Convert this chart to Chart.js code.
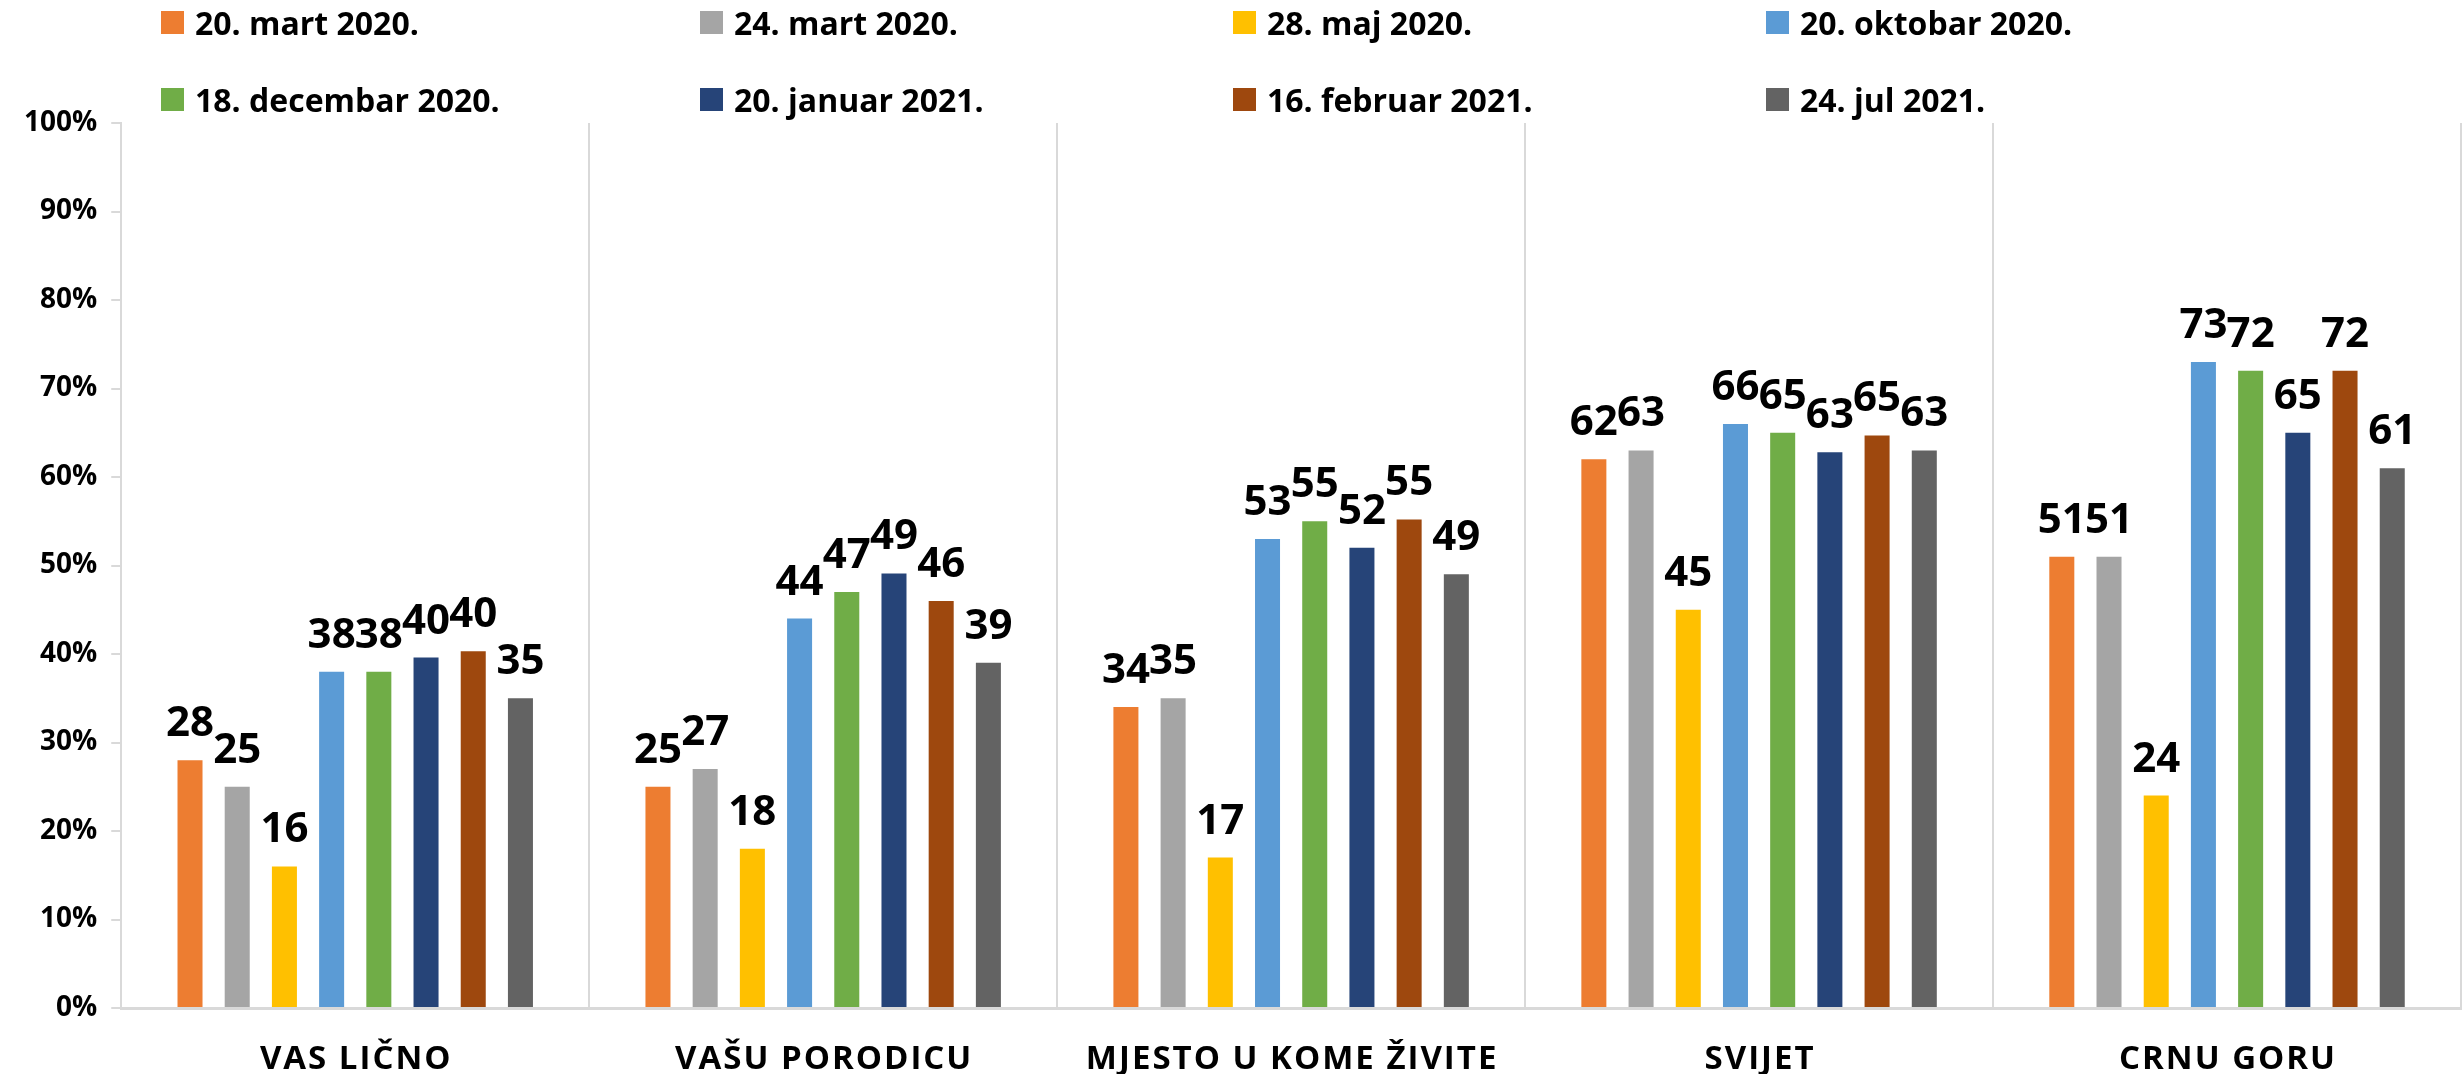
<!DOCTYPE html>
<html>
<head>
<meta charset="utf-8">
<script src="https://cdn.jsdelivr.net/npm/chart.js@4/dist/chart.umd.min.js"></script>
<style>
  html, body { margin: 0; padding: 0; background: #ffffff; }
  #wrap { width: 2463px; height: 1074px; }
</style>
</head>
<body>
<div id="wrap"><canvas id="c" width="2463" height="1074"></canvas></div>
<script>
const categories = ['VAS LIČNO', 'VAŠU PORODICU', 'MJESTO U KOME ŽIVITE', 'SVIJET', 'CRNU GORU'];
const seriesNames = ['20. mart 2020.', '24. mart 2020.', '28. maj 2020.', '20. oktobar 2020.',
                     '18. decembar 2020.', '20. januar 2021.', '16. februar 2021.', '24. jul 2021.'];
const mart20_2020 = [28, 25, 34, 62, 51];
const mart24_2020 = [25, 27, 35, 63, 51];
const maj28_2020 = [16, 18, 17, 45, 24];
const oktobar20_2020 = [38, 44, 53, 66, 73];
const decembar18_2020 = [38, 47, 55, 65, 72];
const januar20_2021 = [39.6, 49.1, 52, 62.8, 65];
const februar16_2021 = [40.3, 46, 55.2, 64.7, 72];
const jul24_2021 = [35, 39, 49, 63, 61];
const yTicks = [0, 10, 20, 30, 40, 50, 60, 70, 80, 90, 100];

const seriesValues = [mart20_2020, mart24_2020, maj28_2020, oktobar20_2020,
                      decembar18_2020, januar20_2021, februar16_2021, jul24_2021];
const seriesColors = ['#ED7D31', '#A5A5A5', '#FFC000', '#5B9BD5', '#70AD47', '#264478', '#9E480E', '#636363'];

const FONT = '"Open Sans", "Noto Sans", sans-serif';

const legendPlugin = {
  id: 'customLegend',
  afterDraw(chart) {
    const ctx = chart.ctx;
    const cols = [161, 700, 1233, 1766];
    const rowsBase = [35, 112];
    ctx.save();
    ctx.font = 'bold 32px ' + FONT;
    ctx.textAlign = 'left';
    ctx.textBaseline = 'alphabetic';
    chart.data.datasets.forEach((ds, i) => {
      const col = i % 4, row = Math.floor(i / 4);
      const x = cols[col], base = rowsBase[row];
      ctx.fillStyle = ds.backgroundColor;
      ctx.fillRect(x, base - 24, 23, 23);
      ctx.fillStyle = '#000000';
      ctx.fillText(ds.label, x + 34, base);
    });
    ctx.restore();
  }
};

const xLabelPlugin = {
  id: 'xLabels',
  afterDraw(chart) {
    const ctx = chart.ctx;
    const xs = chart.scales.x;
    ctx.save();
    ctx.font = 'bold 33px ' + FONT;
    ctx.textAlign = 'center';
    ctx.textBaseline = 'alphabetic';
    ctx.fillStyle = '#000000';
    if ('letterSpacing' in ctx) ctx.letterSpacing = '2px';
    chart.data.labels.forEach((lab, i) => {
      const x = xs.getPixelForValue(i);
      ctx.fillText(lab, x + 1, 1069);
    });
    ctx.restore();
  }
};

const dataLabelPlugin = {
  id: 'dataLabels',
  afterDatasetsDraw(chart) {
    const ctx = chart.ctx;
    ctx.save();
    ctx.font = 'bold 42px ' + FONT;
    ctx.textAlign = 'center';
    ctx.textBaseline = 'alphabetic';
    ctx.fillStyle = '#000000';
    chart.data.datasets.forEach((ds, di) => {
      const meta = chart.getDatasetMeta(di);
      meta.data.forEach((bar, i) => {
        const v = ds.data[i];
        ctx.fillText(String(Math.round(v)), bar.x, bar.y - 24);
      });
    });
    ctx.restore();
  }
};

new Chart(document.getElementById('c'), {
  type: 'bar',
  data: {
    labels: categories,
    datasets: seriesNames.map((name, i) => ({
      label: name,
      data: seriesValues[i],
      backgroundColor: seriesColors[i],
      borderWidth: 0,
      barPercentage: 0.53,
      categoryPercentage: 0.807
    }))
  },
  options: {
    responsive: false,
    devicePixelRatio: 1,
    animation: false,
    layout: { padding: { top: 123, left: 10, right: 2, bottom: 66 } },
    plugins: {
      legend: { display: false },
      tooltip: { enabled: false }
    },
    scales: {
      x: {
        ticks: { display: false },
        grid: { color: '#d9d9d9', lineWidth: 2, drawTicks: false, offset: true },
        border: { display: true, color: '#d9d9d9', width: 3 }
      },
      y: {
        min: 0,
        max: 100,
        afterBuildTicks(axis) { axis.ticks = yTicks.map(v => ({ value: v })); },
        ticks: {
          callback: v => v + '%',
          font: { family: FONT, size: 28, weight: 'bold' },
          color: '#000000',
          padding: 14
        },
        grid: { drawOnChartArea: false, drawTicks: true, tickLength: 10, color: '#d9d9d9', lineWidth: 2 },
        border: { display: true, color: '#d9d9d9', width: 2 }
      }
    }
  },
  plugins: [legendPlugin, xLabelPlugin, dataLabelPlugin]
});
</script>
</body>
</html>
